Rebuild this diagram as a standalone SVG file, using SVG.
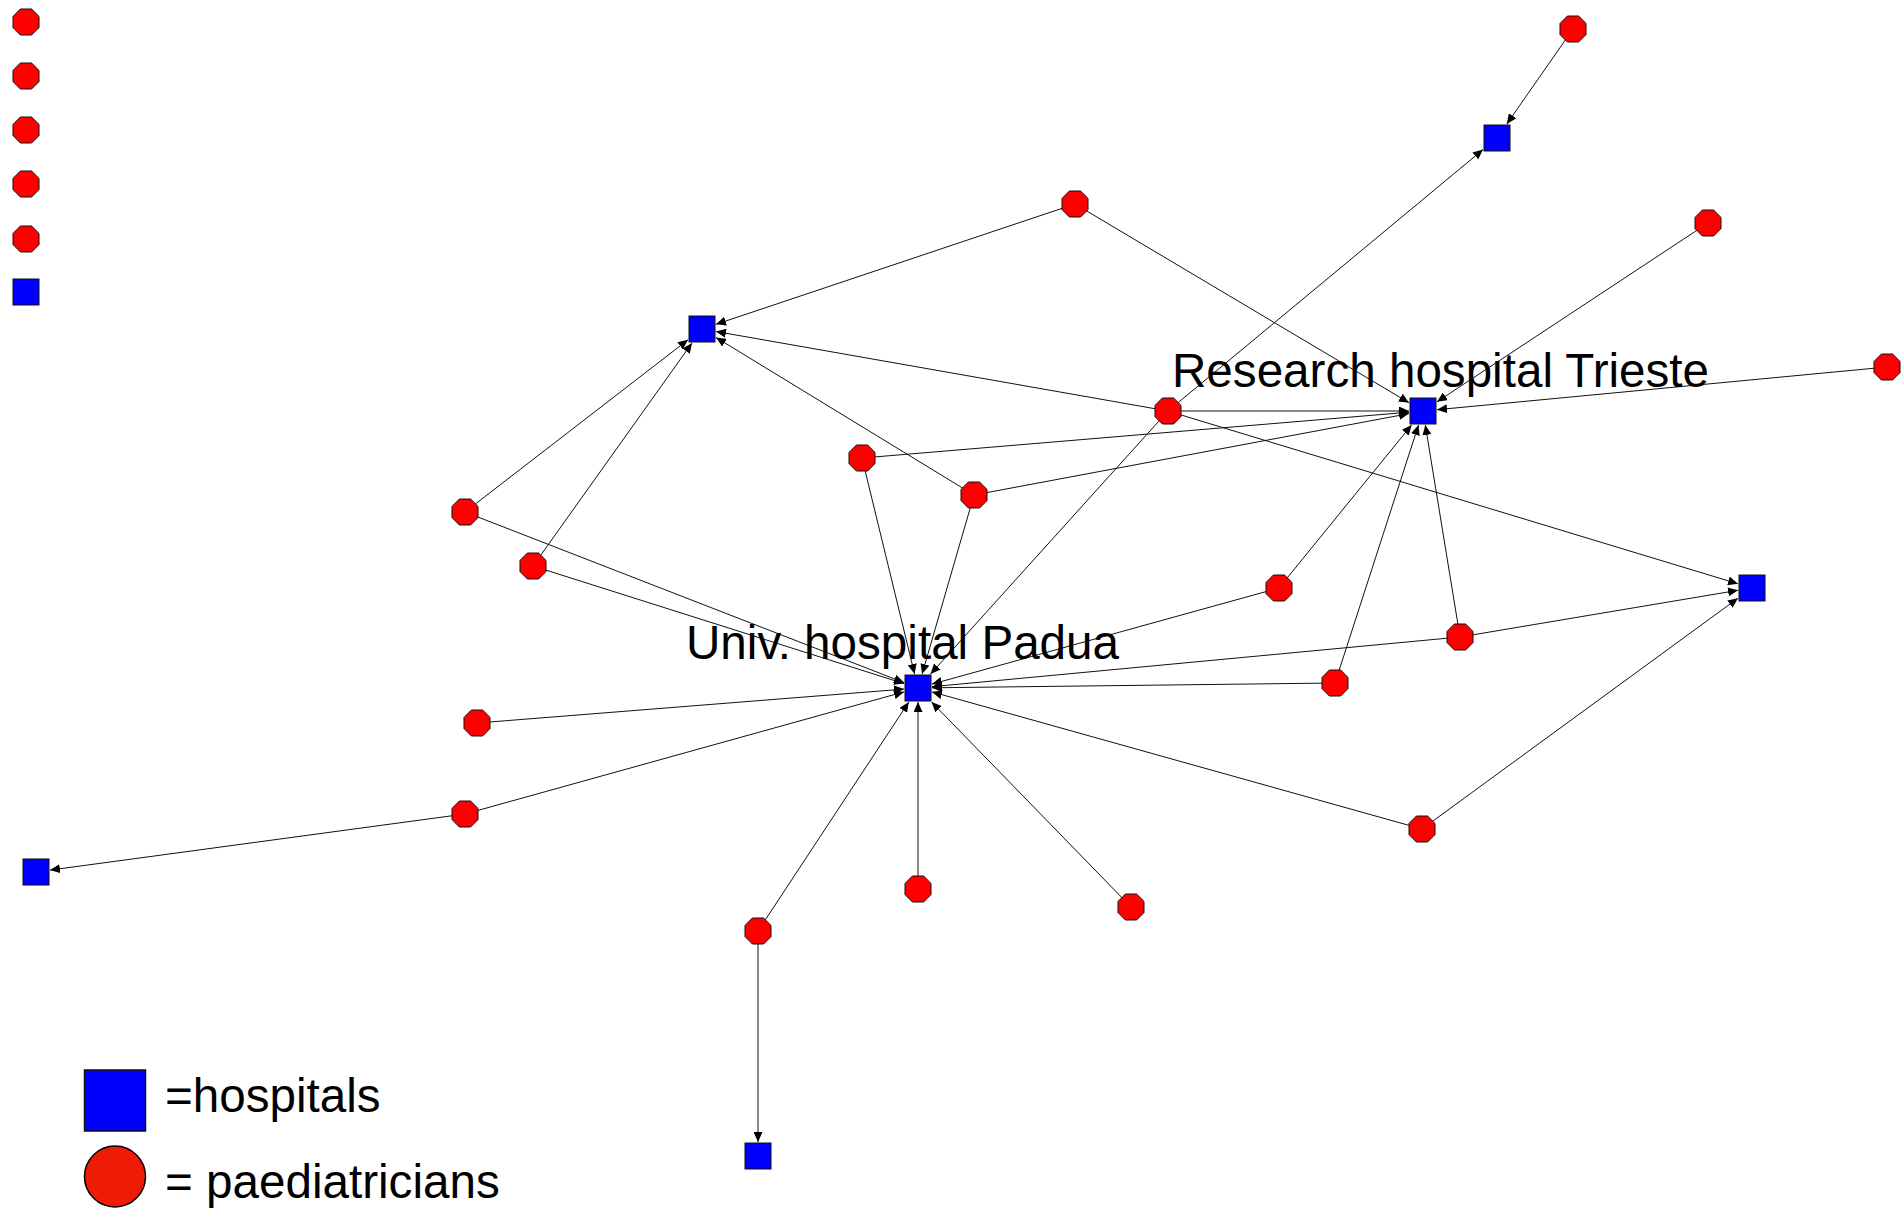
<svg xmlns="http://www.w3.org/2000/svg" width="1903" height="1209" viewBox="0 0 1903 1209">
<style>
.e{stroke:#111;stroke-width:1;fill:none;marker-end:url(#arr)}
.p{fill:#FF0000;stroke:#111;stroke-width:1}
.h{fill:#0000FF;stroke:#111;stroke-width:1}
.t{font-family:"Liberation Sans",Arial,sans-serif;font-size:47.6px;fill:#000}
</style>
<defs>
<marker id="arr" markerUnits="userSpaceOnUse" markerWidth="11" markerHeight="9" refX="10" refY="4.5" orient="auto">
<path d="M0,0 L10,4.5 L0,9 z" fill="#000"/>
</marker>
<polygon id="oct" points="-5.6,-13 5.6,-13 13,-5.6 13,5.6 5.6,13 -5.6,13 -13,5.6 -13,-5.6" class="p"/>
<rect id="sq" x="-13" y="-13" width="26" height="26" class="h"/>
</defs>
<rect width="1903" height="1209" fill="#fff"/>
<g id="connectors">
<line class="e" x1="1573" y1="29" x2="1506.8" y2="124"/>
<line class="e" x1="1075" y1="204" x2="716" y2="324.3"/>
<line class="e" x1="1075" y1="204" x2="1409" y2="402.7"/>
<line class="e" x1="1708" y1="223" x2="1437" y2="401.8"/>
<line class="e" x1="1887" y1="367" x2="1437" y2="409.7"/>
<line class="e" x1="1168" y1="411" x2="716" y2="331.5"/>
<line class="e" x1="1168" y1="411" x2="1409" y2="411"/>
<line class="e" x1="1168" y1="411" x2="1738" y2="583.8"/>
<line class="e" x1="1168" y1="411" x2="1483" y2="149.6"/>
<line class="e" x1="1168" y1="411" x2="930.6" y2="674"/>
<line class="e" x1="862" y1="458" x2="1409" y2="412.2"/>
<line class="e" x1="862" y1="458" x2="914.6" y2="674"/>
<line class="e" x1="974" y1="495" x2="716" y2="337.5"/>
<line class="e" x1="974" y1="495" x2="1409" y2="413.6"/>
<line class="e" x1="974" y1="495" x2="922.1" y2="674"/>
<line class="e" x1="465" y1="512" x2="688" y2="339.8"/>
<line class="e" x1="465" y1="512" x2="904" y2="682.6"/>
<line class="e" x1="533" y1="566" x2="692" y2="343"/>
<line class="e" x1="533" y1="566" x2="904" y2="683.6"/>
<line class="e" x1="1279" y1="588" x2="1411.6" y2="425"/>
<line class="e" x1="1279" y1="588" x2="932" y2="684.1"/>
<line class="e" x1="1460" y1="637" x2="1425.3" y2="425"/>
<line class="e" x1="1460" y1="637" x2="1738" y2="590.3"/>
<line class="e" x1="1460" y1="637" x2="932" y2="686.7"/>
<line class="e" x1="1335" y1="683" x2="1418.5" y2="425"/>
<line class="e" x1="1335" y1="683" x2="932" y2="687.8"/>
<line class="e" x1="1422" y1="829" x2="932" y2="691.9"/>
<line class="e" x1="1422" y1="829" x2="1738" y2="598.2"/>
<line class="e" x1="477" y1="723" x2="904" y2="689.1"/>
<line class="e" x1="465" y1="814" x2="904" y2="691.9"/>
<line class="e" x1="465" y1="814" x2="50" y2="870.1"/>
<line class="e" x1="918" y1="889" x2="918" y2="702"/>
<line class="e" x1="1131" y1="907" x2="931.6" y2="702"/>
<line class="e" x1="758" y1="931" x2="908.8" y2="702"/>
<line class="e" x1="758" y1="931" x2="758" y2="1142"/>
</g>
<g id="iso1"><use href="#oct" x="26" y="22"/></g>
<g id="iso2"><use href="#oct" x="26" y="76"/></g>
<g id="iso3"><use href="#oct" x="26" y="130"/></g>
<g id="iso4"><use href="#oct" x="26" y="184"/></g>
<g id="iso5"><use href="#oct" x="26" y="239"/></g>
<g id="iso6"><use href="#sq" x="26" y="292"/></g>
<g id="A1"><use href="#oct" x="1573" y="29"/></g>
<g id="H1"><use href="#sq" x="1497" y="138"/></g>
<g id="C1"><use href="#oct" x="1075" y="204"/></g>
<g id="C2"><use href="#oct" x="1708" y="223"/></g>
<g id="H2"><use href="#sq" x="702" y="329"/></g>
<g id="C3"><use href="#oct" x="1887" y="367"/></g>
<g id="HT"><use href="#sq" x="1423" y="411"/><text class="t" x="1172" y="387">Research hospital Trieste</text></g>
<g id="C4"><use href="#oct" x="1168" y="411"/></g>
<g id="C5"><use href="#oct" x="862" y="458"/></g>
<g id="C6"><use href="#oct" x="974" y="495"/></g>
<g id="C7"><use href="#oct" x="465" y="512"/></g>
<g id="C8"><use href="#oct" x="533" y="566"/></g>
<g id="C9"><use href="#oct" x="1279" y="588"/></g>
<g id="H3"><use href="#sq" x="1752" y="588"/></g>
<g id="C10"><use href="#oct" x="1460" y="637"/></g>
<g id="HP"><use href="#sq" x="918" y="688"/><text class="t" x="686" y="659">Univ. hospital Padua</text></g>
<g id="C11"><use href="#oct" x="1335" y="683"/></g>
<g id="C12"><use href="#oct" x="477" y="723"/></g>
<g id="C13"><use href="#oct" x="465" y="814"/></g>
<g id="C14"><use href="#oct" x="1422" y="829"/></g>
<g id="H4"><use href="#sq" x="36" y="872"/></g>
<g id="C15"><use href="#oct" x="918" y="889"/></g>
<g id="C16"><use href="#oct" x="1131" y="907"/></g>
<g id="C17"><use href="#oct" x="758" y="931"/></g>
<g id="H5"><use href="#sq" x="758" y="1156"/></g>
<g id="legend">
<rect x="84.5" y="1070" width="61" height="61" fill="#0000FF" stroke="#111" stroke-width="1.5"/>
<text class="t" x="165" y="1112">=hospitals</text>
<ellipse cx="115" cy="1176.5" rx="30.5" ry="30.5" fill="#EE1C07" stroke="#000" stroke-width="1.5"/>
<text class="t" x="165" y="1198">= paediatricians</text>
</g>
</svg>
